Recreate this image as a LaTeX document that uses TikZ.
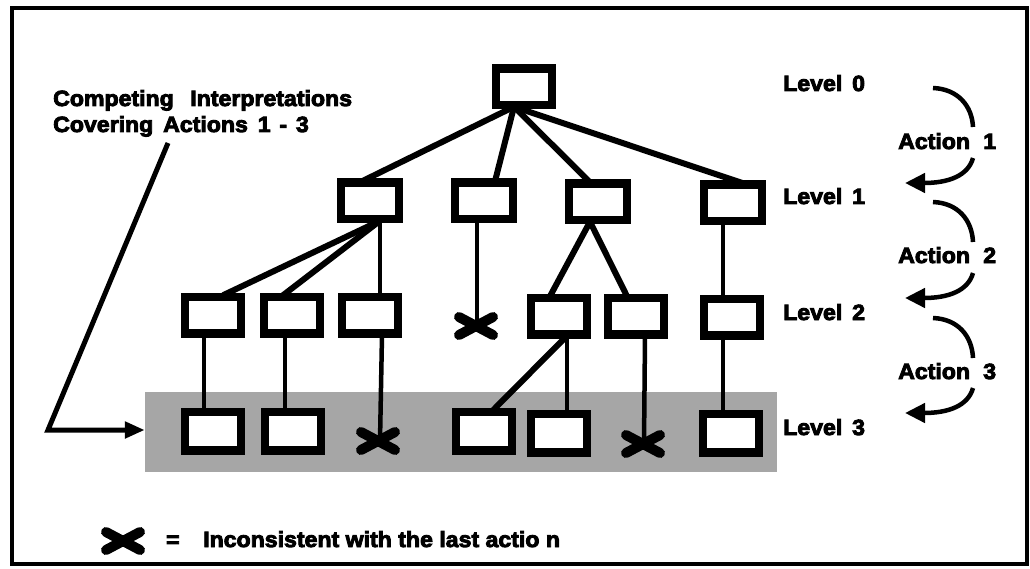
\documentclass[tikz,border=0pt]{standalone}
\usepackage{fontspec}
\setmainfont{Liberation Sans}[FakeStretch=1.05,BoldFeatures={FakeBold=4}]
\usetikzlibrary{arrows.meta,calc}
\begin{document}
\begin{tikzpicture}[x=1pt,y=-1pt,
  bx/.style={draw,line width=5.5pt,fill=white,minimum width=53pt,minimum height=34pt,inner sep=0pt},
  ln/.style={line width=6pt},
  vl/.style={line width=4.5pt},
  lbl/.style={font=\bfseries\fontsize{22}{26}\selectfont,inner sep=0pt,anchor=base west},
  arc/.style={line width=4.5pt},
  arw/.style={line width=4.5pt,-{Triangle[length=20pt,width=19pt]}},
  xm/.pic={\draw[line width=10pt,line cap=round] (-17,-9) -- (17,9) (-17,9) -- (17,-9);}
]
\useasboundingbox (0,0) rectangle (1030,569);
\draw[line width=4pt] (12,8) rectangle (1027,564);
% shaded band
\node[fill=black!35,minimum width=632pt,minimum height=80pt,inner sep=0pt] (sh) at (461,432) {};
% level 0
\node[bx] (r) at (524,87) {};
% level 1
\node[bx,minimum width=55pt] (a) at (370,201) {};
\node[bx,minimum width=55pt] (b) at (484,201) {};
\node[bx,minimum width=55pt] (c) at (598,202) {};
\node[bx,minimum width=55pt] (d) at (733,203) {};
% level 2
\node[bx] (e1) at (213,315) {};
\node[bx] (e2) at (292,315) {};
\node[bx] (e3) at (370,315) {};
\coordinate (xb) at (476,326);
\node[bx] (e4) at (559,316) {};
\node[bx] (e5) at (636,316) {};
\node[bx] (e6) at (732,317) {};
% level 3
\node[bx,minimum height=36pt] (f1) at (213,431) {};
\node[bx,minimum height=36pt] (f2) at (293,431) {};
\coordinate (x3) at (380,441);
\node[bx,minimum height=36pt] (f4) at (484,431) {};
\node[bx,minimum height=36pt] (f5) at (559,433) {};
\coordinate (x6) at (644,444);
\node[bx,minimum height=36pt] (f7) at (731,433) {};
% connectors
\draw[ln] ([xshift=-10pt]r.south) -- ([xshift=-8pt]a.north);
\draw[ln] ([xshift=-10pt]r.south) -- ([xshift=11pt]b.north);
\draw[ln] ([xshift=-10pt]r.south) -- ([xshift=-8pt]c.north);
\draw[ln] ([xshift=-10pt]r.south) -- ([xshift=10pt]d.north);
\draw[ln] ([xshift=10pt]a.south) -- ([xshift=10pt]e1.north);
\draw[ln] ([xshift=10pt]a.south) -- ([xshift=-9pt]e2.north);
\draw[vl] ([xshift=10pt]a.south) -- ([xshift=10pt]e3.north);
\draw[vl] ([xshift=-7pt]b.south) -- ([xshift=1pt]xb);
\draw[ln] ([xshift=-8pt]c.south) -- ([xshift=-9pt]e4.north);
\draw[ln] ([xshift=-8pt]c.south) -- ([xshift=-9pt]e5.north);
\draw[vl] ([xshift=-10pt]d.south) -- ([xshift=-9pt]e6.north);
\draw[vl] ([xshift=-9pt]e1.south) -- ([xshift=-9pt]f1.north);
\draw[vl] ([xshift=-7pt]e2.south) -- ([xshift=-8pt]f2.north);
\draw[vl] ([xshift=12pt]e3.south) -- (x3);
\draw[ln] ([xshift=8pt]e4.south) -- ([xshift=9pt]f4.north);
\draw[vl] ([xshift=8pt]e4.south) -- ([xshift=8pt]f5.north);
\draw[vl] ([xshift=9pt]e5.south) -- (x6);
\draw[vl] ([xshift=-9pt]e6.south) -- ([xshift=-8pt]f7.north);
% redraw boxes on top of line ends
\foreach \n in {r,a,b,c,d,e1,e2,e3,e4,e5,e6,f1,f2,f4,f5,f7}{\draw[line width=5.5pt] (\n.north west) rectangle (\n.south east);}
% crosses
\pic at (xb) {xm};
\pic at ([xshift=-2pt]x3) {xm};
\pic at ([xshift=-1pt]x6) {xm};
% labels left
\node[lbl] (ci1) at (53,106) {Competing\hspace{0.75em}Interpretations};
\node[lbl] (ci2) at (53,132) {Covering\hspace{0.45em}Actions\hspace{0.45em}1\hspace{0.4em}-\hspace{0.4em}3};
\coordinate (cp) at (168,143);
\coordinate (bend) at (48,430);
\draw[line width=5pt,-{Triangle[length=20pt,width=16pt]}] (cp) -- (bend) -- (sh.west |- bend);
% level labels
\node[lbl] (l0) at (783,91) {Level\hspace{0.45em}0};
\node[lbl] (l1) at (783,204) {Level\hspace{0.45em}1};
\node[lbl] (l2) at (783,320) {Level\hspace{0.45em}2};
\node[lbl] (l3) at (783,435) {Level\hspace{0.45em}3};
% action labels
\node[lbl] (ac1) at (898,149) {Action\hspace{0.6em}1};
\node[lbl] (ac2) at (898,263) {Action\hspace{0.6em}2};
\node[lbl] (ac3) at (898,379) {Action\hspace{0.6em}3};
% arcs
\foreach \t/\b in {88/127,202/242,318/358}{
  \draw[arc] (933,\t) .. controls (958,\t+1) and (972,\t+18) .. (973,\b);
}
\foreach \s/\e in {158/183,273/298,388/413}{
  \draw[arw] (973,\s) .. controls (968,\s+18) and (948,\e) .. (905,\e);
}
% legend
\pic at (123,541) {xm};
\node[lbl] (eq) at (166,547) {=};
\node[lbl] (lg) at (203,547) {Inconsistent with the last actio n};
\end{tikzpicture}
\end{document}
